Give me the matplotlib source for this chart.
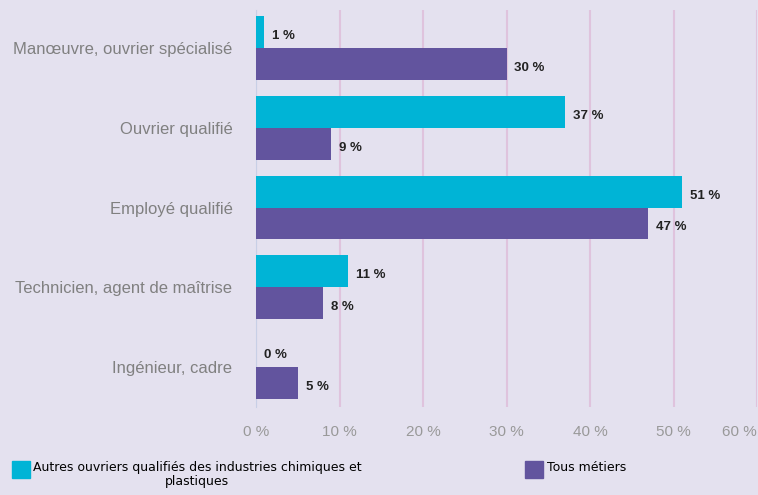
import numpy as np
import matplotlib.pyplot as plt
from matplotlib.patches import Rectangle

# Data
categories = ["Manœuvre, ouvrier spécialisé", "Ouvrier qualifié", "Employé qualifié",
              "Technicien, agent de maîtrise", "Ingénieur, cadre"]
autres = [1, 37, 51, 11, 0]
tous = [30, 9, 47, 8, 5]
series_names = ["Autres ouvriers qualifiés des industries chimiques et\nplastiques", "Tous métiers"]
ticks = [0, 10, 20, 30, 40, 50, 60]

bg = "#e4e1ef"
cyan = "#00b4d6"
purple = "#62549e"
W, H = 758, 495

fig = plt.figure(figsize=(7.58, 4.95), dpi=100, facecolor=bg)
ax = fig.add_axes([256 / W, 88 / H, 501 / W, 397 / H], facecolor=bg)

y = np.arange(len(categories))
h = 0.4
ax.barh(y - h / 2, autres, height=h, color=cyan, zorder=3)
ax.barh(y + h / 2, tous, height=h, color=purple, zorder=3)

lab_font = dict(fontsize=9.5, fontweight="bold", color="#222222", family="Liberation Sans")
for i in range(len(categories)):
    ax.annotate(f"{autres[i]} %", (autres[i], y[i] - h / 2), xytext=(8, -4),
                textcoords="offset pixels", va="center", ha="left", **lab_font)
    ax.annotate(f"{tous[i]} %", (tous[i], y[i] + h / 2), xytext=(8, -4),
                textcoords="offset pixels", va="center", ha="left", **lab_font)

ax.set_xlim(0, 60)
ax.set_ylim(4.5, -0.475)
ax.set_xticks(ticks)
ax.set_xticklabels([f"{t} %" for t in ticks], fontsize=11, color="#999999",
                   family="Liberation Sans")
ax.get_xticklabels()[-1].set_horizontalalignment("right")
ax.set_yticks(y)
ax.set_yticklabels(categories, fontsize=12, color="#808080", family="Liberation Sans")
ax.tick_params(axis="both", length=0)
ax.tick_params(axis="x", pad=13)
ax.tick_params(axis="y", pad=17)
for s in ["top", "right", "bottom"]:
    ax.spines[s].set_visible(False)
ax.spines["left"].set_color("#c8cfe6")
ax.xaxis.grid(True, color="#dfc3dd", linewidth=1.5, zorder=0)
ax.set_axisbelow(True)

# legend drawn by hand to follow the original layout
fig.add_artist(Rectangle((12 / W, 1 - 478 / H), 18 / W, 17 / H, color=cyan,
                         transform=fig.transFigure))
fig.text(33 / W, 1 - 461 / H, series_names[0], fontsize=9, va="top", ha="left",
         multialignment="center", linespacing=1.1)
fig.add_artist(Rectangle((525 / W, 1 - 478 / H), 18 / W, 17 / H, color=purple,
                         transform=fig.transFigure))
fig.text(547 / W, 1 - 461 / H, series_names[1], fontsize=9, va="top", ha="left")

plt.savefig("out.png", dpi=100, facecolor=bg)
